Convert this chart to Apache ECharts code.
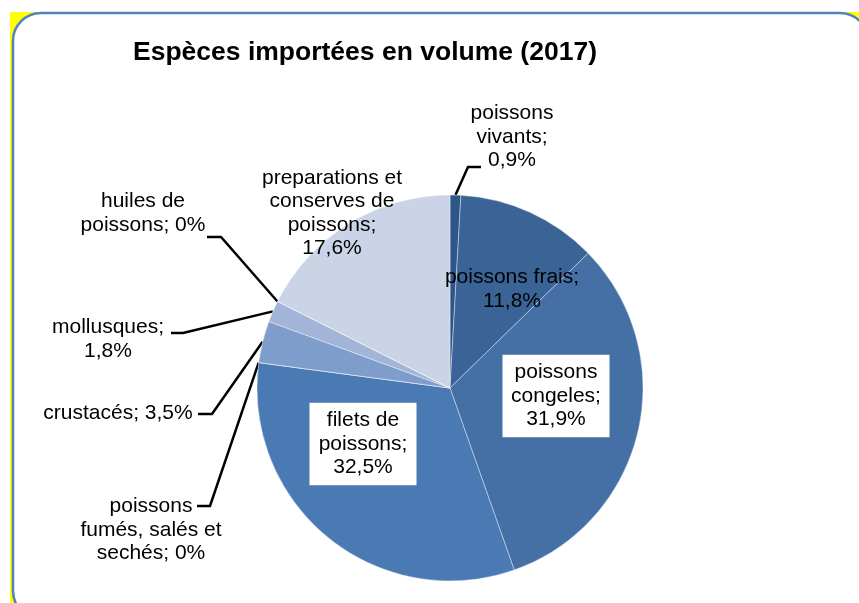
<!DOCTYPE html>
<html>
<head>
<meta charset="utf-8">
<script src="https://cdn.jsdelivr.net/npm/echarts@6/dist/echarts.min.js"></script>
<style>
  html, body { margin: 0; padding: 0; background: #fff; }
  #main { width: 859px; height: 603px; }
</style>
</head>
<body>
<div id="main"></div>
<script>
// données (ordre horaire depuis midi)
var names = ['poissons\nvivants', 'poissons frais', 'poissons\ncongeles', 'filets de\npoissons',
    'poissons\nfumés, salés et\nsechés', 'crustacés', 'mollusques', 'huiles de\npoissons',
    'preparations et\nconserves de\npoissons'];
var values = [0.9, 11.8, 31.9, 32.5, 0, 3.5, 1.8, 0, 17.6];
// séparateur entre nom et pourcentage
var seps = ['\n', '\n', '\n', '\n', ' ', ' ', '\n', ' ', '\n'];
var colors = ['#2f5688', '#3a6496', '#4470a5', '#4a7ab4', '#4a7ab4', '#7f9dca', '#a2b5d8', '#c5d1e6', '#cad4e6'];

// position des étiquettes [x, y] et coude/fin du trait de rappel
var labelPos = [
    {x: 512, y: 137, line: [[468, 167], [481, 167]]},
    {x: 512, y: 289},
    {x: 556, y: 396},
    {x: 363, y: 444},
    {x: 151, y: 530, line: [[210, 506], [197, 506]]},
    {x: 118, y: 413, line: [[212, 414], [198, 414]]},
    {x: 108, y: 339, line: [[183, 333], [171, 333]]},
    {x: 143, y: 213, line: [[221, 237], [207, 237]]},
    {x: 332, y: 213}
];

var myChart = echarts.init(document.getElementById('main'));

var seriesData = [];
for (var i = 0; i < names.length; i++) {
    var item = {
        name: names[i],
        value: values[i],
        itemStyle: {color: colors[i]},
        labelLine: {show: !!labelPos[i].line}
    };
    if (i === 2 || i === 3) {
        // étiquettes sur fond blanc
        item.label = {backgroundColor: '#fff', width: 91, overflow: 'none', padding: [6, 8]};
    }
    seriesData.push(item);
}

var option = {
    backgroundColor: '#fff',
    animation: false,
    graphic: [
        {type: 'rect', shape: {x: 10, y: 12, width: 860, height: 600}, style: {fill: '#ffff00'}, z: -10},
        {type: 'rect', shape: {x: 13, y: 13, width: 855, height: 606, r: 28},
            style: {fill: '#fff', stroke: '#5382be', lineWidth: 2.5}, z: -9}
    ],
    title: {
        text: 'Espèces importées en volume (2017)',
        left: 128,
        top: 34,
        textStyle: {fontFamily: 'Liberation Sans', fontSize: 26.5, fontWeight: 'bold', color: '#000'}
    },
    series: [{
        type: 'pie',
        center: [450, 388],
        radius: 193,
        startAngle: 90,
        clockwise: true,
        avoidLabelOverlap: false,
        itemStyle: {borderColor: 'rgba(255,255,255,0.55)', borderWidth: 0.7},
        label: {
            show: true,
            position: 'outside',
            fontFamily: 'Liberation Sans',
            fontSize: 21,
            lineHeight: 23.5,
            color: '#000',
            align: 'center',
            formatter: function (p) {
                return p.name + ';' + seps[p.dataIndex] + String(p.value).replace('.', ',') + '%';
            }
        },
        labelLine: {lineStyle: {color: '#000', width: 2.5}, length: 10, length2: 10},
        labelLayout: function (p) {
            var lp = labelPos[p.dataIndex];
            var res = {x: lp.x, y: lp.y, align: 'center', verticalAlign: 'middle'};
            if (lp.line && p.labelLinePoints) {
                res.labelLinePoints = [p.labelLinePoints[0], lp.line[0], lp.line[1]];
            }
            return res;
        },
        data: seriesData
    }]
};

myChart.setOption(option);
</script>
</body>
</html>
